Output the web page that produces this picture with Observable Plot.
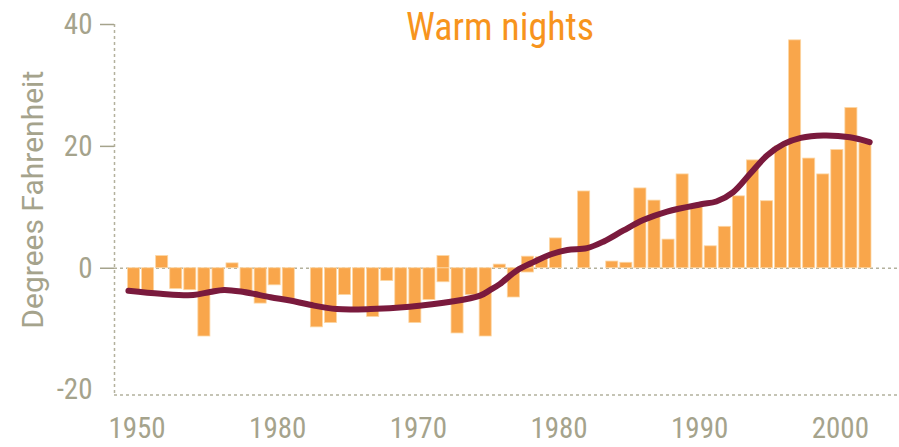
<!DOCTYPE html>
<html><head><meta charset="utf-8">
<script src="https://cdn.jsdelivr.net/npm/d3@7"></script>
<script src="https://cdn.jsdelivr.net/npm/@observablehq/plot@0.6"></script>
<style>
html,body{margin:0;padding:0;background:#fff;}
#chart svg{display:block;}
</style></head><body><div id="chart"></div>
<script>
// ---- data ----
const years = [1950,1951,1952,1953,1954,1955,1956,1957,1958,1959,
               1960,1961,1962,1963,1964,1965,1966,1967,1968,1969,
               1970,1971,1972,1973,1974,1975,1976,1977,1978,1979,
               1980,1981,1982,1983,1984,1985,1986,1987,1988,1989,
               1990,1991,1992,1993,1994,1995,1996,1997,1998,1999,
               2000,2001,2002];
const anomalies = [-4.0,-4.0,2.0,-3.4,-3.6,-11.2,-3.8,0.8,-3.8,-5.8,
                   -2.8,-5.2,0,-9.7,-9.0,-4.4,-6.5,-8.0,-2.1,-6.3,
                   -9.0,-5.2,-2.3,-10.7,-4.4,-11.2,0.6,-4.8,-0.7,1.8,
                   4.9,0,12.6,0,1.1,0.9,13.1,11.1,4.7,15.4,
                   10.0,3.6,6.8,11.8,17.7,11.0,20.0,37.4,18.0,15.4,
                   19.4,26.3,20.5];
const overlayYears = [1972, 1978];
const overlayValues = [2.0, 1.9];
const trendYears = [1949.6,1951.9,1954.2,1955.4,1956.4,1957.8,1959.7,1961.1,1962.5,1964.4,
                    1966.8,1969.6,1972.5,1974.6,1975.3,1976.0,1977.2,1978.4,1979.6,1980.8,
                    1982.2,1983.4,1984.8,1986.2,1987.9,1990.3,1991.4,1992.6,1993.8,1995.0,1996.2,
                    1997.4,1999.0,2000.9,2002.3];
const trendValues = [-3.7,-4.2,-4.4,-3.9,-3.55,-3.9,-4.75,-5.3,-6.0,-6.7,
                     -6.7,-6.3,-5.5,-4.5,-3.6,-2.6,-0.4,1.0,2.25,3.0,
                     3.3,4.4,6.2,7.9,9.3,10.5,10.95,12.5,15.5,18.5,20.4,
                     21.4,21.8,21.5,20.7];
const yTickValues = [40, 20, 0, -20];
const yTickMarks = [40, 20, 0];
const xTickValues = [1950, 1960, 1970, 1980, 1990, 2000];
const xTickLabels = ["1950", "1980", "1970", "1980", "1990", "2000"];
const titleText = "Warm nights";
const yAxisTitle = "Degrees Fahrenheit";

// ---- build ----
const bars = years.map((year, i) => ({year, value: anomalies[i]}))
  .concat(overlayYears.map((year, i) => ({year, value: overlayValues[i]})));
const trend = trendYears.map((year, i) => ({year, value: trendValues[i]}));

const font = `"Liberation Sans Narrow", "Arial Narrow", "Roboto Condensed", "DejaVu Sans Condensed", sans-serif`;
const gray = "#a5a38c";
const xDomain = [1948.61, 2004.42];
const yDomain = [-20.8, 40];

const chart = Plot.plot({
  width: 899, height: 447,
  marginLeft: 114, marginRight: 0, marginTop: 24, marginBottom: 52.5,
  x: {domain: xDomain, label: null},
  y: {domain: yDomain, label: null},
  style: {fontFamily: font, background: "white"},
  marks: [
    Plot.ruleY([0], {stroke: "#b3b19d", strokeDasharray: "3,3", strokeWidth: 1.5}),
    Plot.ruleY([yDomain[0]], {stroke: "#b3b19d", strokeDasharray: "3,3", strokeWidth: 1.5}),
    Plot.ruleX([xDomain[0]], {stroke: "#b3b19d", strokeDasharray: "3,3", strokeWidth: 1.5}),
    Plot.rectY(bars, {x1: d => d.year - 0.5, x2: d => d.year + 0.5, y1: 0, y2: "value",
      fill: "#f9a64b", stroke: "#fcd6a4", strokeWidth: 0.8, insetLeft: 1, insetRight: 1}),
    Plot.line(trend, {x: "year", y: "value", stroke: "#7a1a3d", strokeWidth: 6, curve: "catmull-rom"}),
    Plot.axisY(yTickMarks, {tickSize: 14, tickFormat: () => "", stroke: gray, strokeWidth: 1.5, label: null}),
    Plot.axisY(yTickValues, {tickSize: 0, tickPadding: 22, fill: gray, fontSize: 29, label: null,
      tickFormat: d => `${d}`}),
    Plot.axisX(xTickValues, {tickSize: 0, tickPadding: 22, fill: gray, fontSize: 29, label: null, dx: 3,
      tickFormat: d => xTickLabels[xTickValues.indexOf(d)]}),
    Plot.text([titleText], {text: d => d, frameAnchor: "top", fill: "#f7941d", fontSize: 38,
      lineAnchor: "top", dy: -11, dx: -7}),
    Plot.text([yAxisTitle], {text: d => d, frameAnchor: "left", textAnchor: "middle", rotate: -90,
      fill: gray, fontSize: 30, fontFamily: "Roboto, sans-serif", dx: -81, dy: -10})
  ]
});
document.getElementById("chart").appendChild(chart);
</script></body></html>
